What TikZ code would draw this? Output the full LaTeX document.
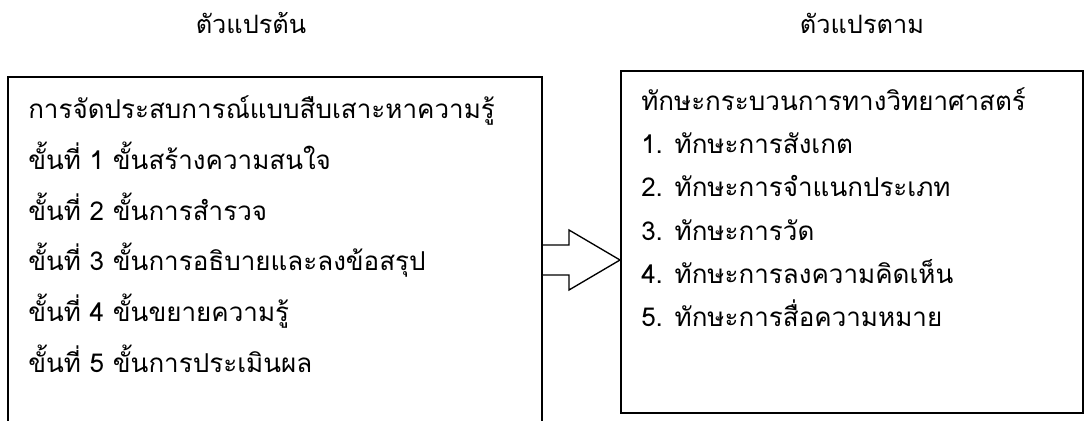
\documentclass[tikz,border=0pt]{standalone}
\usepackage{fontspec}
\newfontfamily\thaifont[Script=Thai]{Loma}
\begin{document}
\begin{tikzpicture}[x=0.75pt,y=-0.75pt,
  txt/.style={font=\thaifont\fontsize{19.5}{24}\selectfont, inner sep=0pt, anchor=base west},
  head/.style={font=\thaifont\fontsize{19}{24}\selectfont, inner sep=0pt, anchor=base},
  boxline/.style={line width=1.5pt, draw=black},
  blockarrow/.style={line width=1pt, draw=black, fill=white, line join=miter}]
\useasboundingbox (0,0) rectangle (1085,421);
\clip (0,0) rectangle (1085,421);
% headings
\node[head] (h1) at (251,33) {ตัวแปรต้น};
\node[head] (h2) at (862,33) {ตัวแปรตาม};
% left box (open at bottom)
\coordinate (lbl) at (8,430);
\coordinate (ltl) at (8,77);
\coordinate (ltr) at (542,77);
\coordinate (lbr) at (542,430);
\draw[boxline] (lbl) -- (ltl) -- (ltr) -- (lbr);
% right box
\node[draw=black, line width=1.4pt, minimum width=462*0.75pt, minimum height=342*0.75pt, inner sep=0pt, anchor=north west] (rbox) at (620,70) {};
% left text
\node[txt] (l0) at (28,118) {การจัดประสบการณ์แบบสืบเสาะหาความรู้};
\node[txt] (l1) at (28,169) {ขั้นที่ 1 ขั้นสร้างความสนใจ};
\node[txt] (l2) at (28,220) {ขั้นที่ 2 ขั้นการสำรวจ};
\node[txt] (l3) at (28,270) {ขั้นที่ 3 ขั้นการอธิบายและลงข้อสรุป};
\node[txt] (l4) at (28,321) {ขั้นที่ 4 ขั้นขยายความรู้};
\node[txt] (l5) at (28,372) {ขั้นที่ 5 ขั้นการประเมินผล};
% right text
\node[txt] (r0) at (641,110) {ทักษะกระบวนการทางวิทยาศาสตร์};
\node[txt] (r1) at (641,153) {1. ทักษะการสังเกต};
\node[txt] (r2) at (641,196) {2. ทักษะการจำแนกประเภท};
\node[txt] (r3) at (641,240) {3. ทักษะการวัด};
\node[txt] (r4) at (641,283) {4. ทักษะการลงความคิดเห็น};
\node[txt] (r5) at (641,326) {5. ทักษะการสื่อความหมาย};
% block arrow from left box to right box
\coordinate (st) at (542,245);
\coordinate (sb) at (542,275);
\coordinate (tip) at (620,260);
\draw[blockarrow] (st) -- ++(27,0) -- ++(0,-15) -- (tip) -- ++(-51,30) -- ++(0,-15) -- (sb) -- cycle;
\draw[line width=2pt] (st) -- (sb);
\end{tikzpicture}
\end{document}
